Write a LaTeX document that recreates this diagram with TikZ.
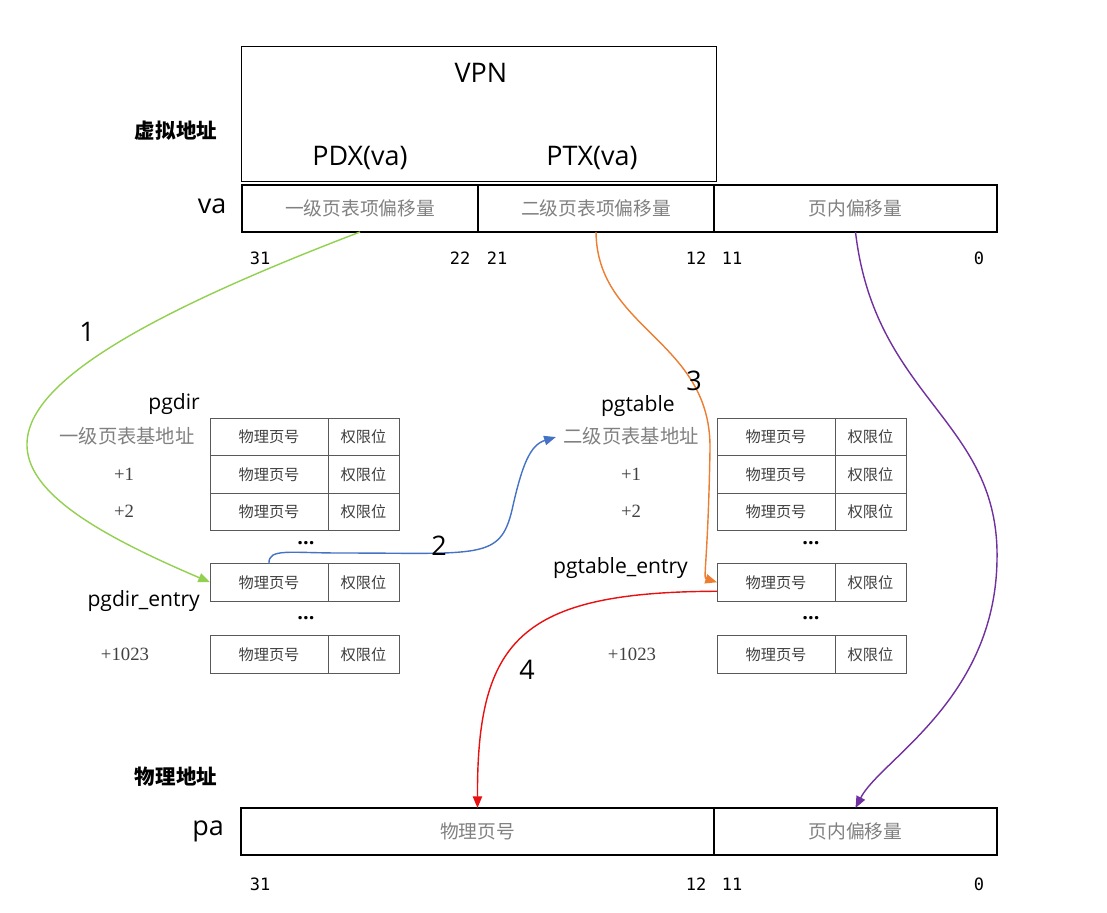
\documentclass[tikz,border=0pt]{standalone}
\usepackage{fontspec}
\usetikzlibrary{calc,arrows.meta,positioning}
\newfontfamily\cjkfont{Noto Sans CJK SC}
\newfontfamily\uifont{Open Sans}
\newfontfamily\bitfont{DejaVu Sans Mono}
\newfontfamily\numfont{Liberation Serif}
\newcommand\px{0.03cm}
\definecolor{linkgreen}{HTML}{92D050}
\definecolor{linkblue}{HTML}{4472C4}
\definecolor{linkorange}{HTML}{ED7D31}
\definecolor{linkred}{HTML}{E81010}
\definecolor{linkpurple}{HTML}{7030A0}
\tikzset{%
    field/.style={%
        draw, line width=1.1pt, minimum height=47*\px, inner sep=0pt, outer sep=0pt,
        anchor=north west, text=black!50, font=\cjkfont\fontsize{16}{16}\selectfont
    },
    ppn/.style={%
        draw=black!65, line width=0.7pt, minimum width=118*\px, minimum height=37.5*\px,
        inner sep=0pt, outer sep=0pt, anchor=north west, text=black!75,
        font=\cjkfont\fontsize{13}{13}\selectfont
    },
    flag/.style={%
        ppn, minimum width=71*\px
    },
    offset/.style={%
        font=\numfont\fontsize{16}{16}\selectfont, text=black!75
    },
    base/.style={%
        font=\cjkfont\fontsize{16.5}{16.5}\selectfont, text=black!50
    },
    tname/.style={%
        font=\uifont\fontsize{18}{18}\selectfont, anchor=east, inner sep=0pt
    },
    big/.style={%
        font=\uifont\fontsize{23}{23}\selectfont
    },
    title/.style={%
        font=\cjkfont\bfseries\fontsize{17.5}{17.5}\selectfont
    },
    bits/.style={%
        font=\bitfont\fontsize{14.5}{14.5}\selectfont
    },
    dots/.style={%
        font=\uifont\bfseries\fontsize{17}{17}\selectfont
    },
    link/.style={%
        line width=1.2pt, -{Triangle[length=10pt,width=8pt]}
    },
}
\begin{document}
\begin{tikzpicture}[x=0.03cm,y=-0.03cm]
    \useasboundingbox (0,0) rectangle (1107,912);
    % virtual address
    \node[draw, line width=0.8pt, minimum width=475*\px, minimum height=135*\px, anchor=north west, inner sep=0pt] (vpn) at (241,46) {};
    \node[big] (vpn-txt) at (481,73) {VPN};
    \node[big] (pdx) at (360,158) {PDX(va)};
    \node[big] (ptx) at (592,158) {PTX(va)};
    \node[title] (va-title) at (176,131) {虚拟地址};
    \node[big] (va) at (212,206) {va};
    \node[field, minimum width=236*\px] (pdx-field) at (242,185) {一级页表项偏移量};
    \node[field, minimum width=236*\px] (ptx-field) at (478,185) {二级页表项偏移量};
    \node[field, minimum width=283*\px] (off-field) at (714,185) {页内偏移量};
    \foreach \x/\b in {260/31,460/22,497/21,696/12,732/11,979/0}
      \node[bits] (va-bit-\b) at (\x,258) {\b};

    % pgdir
    \foreach \t/\n in {418/0,455.5/1,493/2,563.5/e,635.5/l}{
      \node[ppn] (dir-ppn-\n) at (210,\t) {物理页号};
      \node[flag] (dir-flag-\n) at (dir-ppn-\n.north east) {权限位};
    }
    \node[tname] (dir-name) at (200,404) {pgdir};
    \node[base] (dir-base) at (127,436) {一级页表基地址};
    \node[offset] (dir-1) at (124,474) {+1};
    \node[offset] (dir-2) at (124,511) {+2};
    \node[tname] (dir-entry) at (200,601) {pgdir\_entry};
    \node[offset] (dir-1023) at (125,654) {+1023};
    \node[dots] (dir-dots-a) at (306,543) {...};
    \node[dots] (dir-dots-b) at (306,618) {...};

    % pgtable
    \foreach \t/\n in {418/0,455.5/1,493/2,563.5/e,635.5/l}{
      \node[ppn] (tbl-ppn-\n) at (717,\t) {物理页号};
      \node[flag] (tbl-flag-\n) at (tbl-ppn-\n.north east) {权限位};
    }
    \node[tname] (tbl-name) at (675,406) {pgtable};
    \node[base] (tbl-base) at (631,436) {二级页表基地址};
    \node[offset] (tbl-1) at (631,474) {+1};
    \node[offset] (tbl-2) at (631,511) {+2};
    \node[tname] (tbl-entry) at (688,568) {pgtable\_entry};
    \node[offset] (tbl-1023) at (632,654) {+1023};
    \node[dots] (tbl-dots-a) at (811,543) {...};
    \node[dots] (tbl-dots-b) at (811,618) {...};

    % physical address
    \node[title] (pa-title) at (176,777) {物理地址};
    \node[big] (pa) at (208,831) {pa};
    \node[field, minimum width=473*\px] (pa-ppn) at (241,808) {物理页号};
    \node[field, minimum width=283*\px] (pa-off) at (714,808) {页内偏移量};
    \foreach \x/\b in {260/31,696/12,732/11,979/0}
      \node[bits] (pa-bit-\b) at (\x,884) {\b};

    % steps
    \draw[link, linkgreen] (pdx-field.south) .. controls (-80,400) and (-30,480) .. (dir-ppn-e.west);
    \draw[link, linkblue, shorten >=3pt] (dir-ppn-e.north) .. controls (268,548) and (290,553) .. (340,553)
      .. controls (480,553) and (500,560) .. (512,510) .. controls (522,465) and (530,445) .. (tbl-base.west);
    \draw[link, linkorange] (ptx-field.south) .. controls (597,330) and (712,340) .. (710,450)
      .. controls (708,560) and (703,578) .. (tbl-ppn-e.west);
    \draw[link, linkred] ($(tbl-ppn-e.west)+(0,9)$) .. controls (520,592) and (477,640) .. (pa-ppn.north);
    \draw[link, linkpurple] (off-field.south) .. controls (875,400) and (1000,420) .. (997,560)
      .. controls (995,700) and (880,760) .. (pa-off.north);
    \node[big] (step-1) at (87,332) {1};
    \node[big] (step-2) at (439,546) {2};
    \node[big] (step-3) at (694,381) {3};
    \node[big] (step-4) at (527,670) {4};
\end{tikzpicture}
\end{document}
